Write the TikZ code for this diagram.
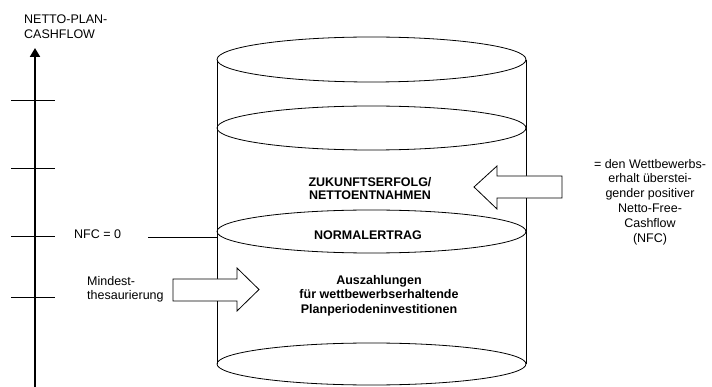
\documentclass[tikz,border=0pt]{standalone}
\usepackage{fontspec}
\setmainfont{Liberation Sans}
\usetikzlibrary{arrows.meta}
\begin{document}
\begin{tikzpicture}[x=1pt,y=-1pt, line join=miter,
  lbl/.style={inner sep=0pt, font=\fontsize{12.5}{14.5}\selectfont},
  blbl/.style={inner sep=0pt, font=\fontsize{12.5}{13}\selectfont\bfseries, align=center},
  thin/.style={line width=0.8pt},
  tickline/.style={line width=1pt},
  blockarrow/.style={draw, fill=white, line width=0.8pt}]
\useasboundingbox (0,0) rectangle (712,387);
% axis
\coordinate (axbot) at (35,387);
\coordinate (axtop) at (35,48);
\draw[line width=2pt, -{Triangle[length=9pt,width=10pt]}] (axbot) -- (axtop);
\foreach \yy [count=\i] in {100.5,169,237,298} {
  \coordinate (tl\i) at (11,\yy);
  \coordinate (tr\i) at (55,\yy);
  \draw[tickline] (tl\i) -- (tr\i);
}
\node[lbl, align=left, anchor=north west] (ytitle) at (24,15) {NETTO-PLAN-\\CASHFLOW};
% cylinder
\coordinate (cl1) at (217,60);
\coordinate (cl2) at (217,364);
\coordinate (cr1) at (526,60);
\coordinate (cr2) at (526,364);
\draw[thin] (cl1) -- (cl2);
\draw[thin] (cr1) -- (cr2);
\foreach \yy/\ry [count=\i] in {59.5/22.5,128/22,231.5/21.5,364/21} {
  \coordinate (ec\i) at (371.5,\yy);
  \draw[thin] (ec\i) ellipse [x radius=154.5, y radius=\ry];
}
% NFC line
\node[lbl, anchor=base west] (nfc) at (74,239) {NFC = 0};
\coordinate (nfcstart) at (148,237);
\coordinate (nfcend) at (217,237);
\draw[thin] (nfcstart) -- (nfcend);
% texts in cylinder
\node[blbl, anchor=north] (zuk) at (370,176.8) {ZUKUNFTSERFOLG/\\NETTOENTNAHMEN};
\node[blbl, anchor=base] (norm) at (368,240) {NORMALERTRAG};
\node[blbl, anchor=north, font=\fontsize{12.5}{14.5}\selectfont\bfseries] (ausz) at (379,275) {Auszahlungen\\für wettbewerbserhaltende\\Planperiodeninvestitionen};
% left label and arrow
\node[lbl, align=left, anchor=north west] (mind) at (87,276) {Mindest-\\thesaurierung};
\draw[blockarrow] (173,279) -- (237,279) -- (237,268) -- (259,289.5) -- (237,311) -- (237,301) -- (173,301) -- cycle;
% right arrow and label
\draw[blockarrow] (562,176) -- (497,176) -- (497,166) -- (474,187) -- (497,209) -- (497,198) -- (562,198) -- cycle;
\node[lbl, align=center, anchor=north, font=\fontsize{12.5}{14.8}\selectfont] (rtxt) at (650,158.8) {= den Wettbewerbs-\\erhalt überstei-\\gender positiver\\Netto-Free-\\Cashflow\\(NFC)};
\end{tikzpicture}
\end{document}
